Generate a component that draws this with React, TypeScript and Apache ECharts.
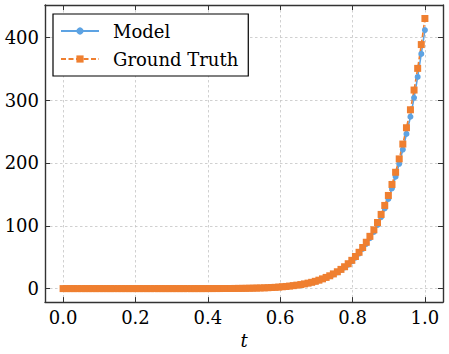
import React, { useEffect, useRef } from "react";
import * as echarts from "echarts";

const t = [
  0.0, 0.01, 0.02, 0.03, 0.04, 0.051, 0.061, 0.071, 0.081, 0.091,
  0.101, 0.111, 0.121, 0.131, 0.141, 0.152, 0.162, 0.172, 0.182, 0.192,
  0.202, 0.212, 0.222, 0.232, 0.242, 0.253, 0.263, 0.273, 0.283, 0.293,
  0.303, 0.313, 0.323, 0.333, 0.343, 0.354, 0.364, 0.374, 0.384, 0.394,
  0.404, 0.414, 0.424, 0.434, 0.444, 0.455, 0.465, 0.475, 0.485, 0.495,
  0.505, 0.515, 0.525, 0.535, 0.545, 0.556, 0.566, 0.576, 0.586, 0.596,
  0.606, 0.616, 0.626, 0.636, 0.646, 0.657, 0.667, 0.677, 0.687, 0.697,
  0.707, 0.717, 0.727, 0.737, 0.747, 0.758, 0.768, 0.778, 0.788, 0.798,
  0.808, 0.818, 0.828, 0.838, 0.848, 0.859, 0.869, 0.879, 0.889, 0.899,
  0.909, 0.919, 0.929, 0.939, 0.949, 0.96, 0.97, 0.98, 0.99, 1.0,
];

const groundTruth = [
  0, 0, 0, 0, 0, 0, 0, 0, 0, 0,
  0, 0, 0, 0, 0, 0, 0, 0, 0, 0,
  0, 0, 0, 0, 0, 0, 0, 0, 0, 0,
  0, 0, 0, 0, 0, 0, 0, 0, 0, 0,
  0.05, 0.06, 0.08, 0.1, 0.13, 0.16, 0.2, 0.25, 0.31, 0.38,
  0.46, 0.57, 0.69, 0.83, 1.0, 1.2, 1.4, 1.7, 2.0, 2.4,
  2.9, 3.4, 4.0, 4.7, 5.5, 6.4, 7.5, 8.7, 10.0, 11.6,
  13.4, 15.5, 17.8, 20.4, 23.4, 26.8, 30.6, 34.8, 39.6, 45.0,
  51.1, 57.8, 65.4, 73.8, 83.2, 93.6, 105.2, 118.1, 132.4, 148.3,
  165.8, 185.2, 206.5, 230.1, 256.1, 284.7, 316.1, 350.6, 388.5, 430.0,
];

const model = [
  0, 0, 0, 0, 0, 0, 0, 0, 0, 0,
  0, 0, 0, 0, 0, 0, 0, 0, 0, 0,
  0, 0, 0, 0, 0, 0, 0, 0, 0, 0,
  0, 0, 0, 0, 0, 0, 0, 0, 0, 0,
  0.05, 0.06, 0.08, 0.1, 0.12, 0.15, 0.19, 0.24, 0.3, 0.37,
  0.45, 0.55, 0.67, 0.8, 0.97, 1.2, 1.4, 1.6, 1.9, 2.3,
  2.8, 3.3, 3.9, 4.6, 5.3, 6.2, 7.3, 8.4, 9.7, 11.2,
  13.0, 15.0, 17.2, 19.7, 22.6, 25.9, 29.6, 33.6, 38.2, 43.4,
  49.3, 55.8, 63.1, 71.2, 80.2, 90.2, 101.4, 113.8, 127.5, 142.8,
  159.6, 178.2, 198.7, 221.3, 246.2, 273.6, 303.7, 337.0, 373.6, 411.5,
];

const xTicks = [0, 0.2, 0.4, 0.6, 0.8, 1.0];
const yTicks = [0, 100, 200, 300, 400];

const FONT = "DejaVu Serif";
const FRAME = "#333333";
const BLUE = "#5da3e3";
const ORANGE = "#ef7f30";

export default function App() {
  const ref = useRef<HTMLDivElement>(null);
  useEffect(() => {
    if (!ref.current) return;
    const chart = echarts.init(ref.current, undefined, { renderer: "svg" });
    const axisLine = { show: true, onZero: false, lineStyle: { color: FRAME, width: 1.4 } };
    const split = {
      show: true,
      lineStyle: { color: "#c4c4c4", width: 0.8, type: [2.5, 2.5] as any },
    };
    const xRange = { min: -0.05, max: 1.05 };
    const yRange = { min: -21.5, max: 451.5 };
    const tick = (vals: number[]) => ({
      show: true,
      inside: true,
      length: 5,
      customValues: vals,
      lineStyle: { color: FRAME, width: 1 },
    });
    const labelFont = { fontFamily: FONT, fontSize: 18, color: "#000" };
    chart.setOption({
      animation: false,
      backgroundColor: "#ffffff",
      textStyle: { fontFamily: FONT, fontSize: 18, color: "#000" },
      grid: { left: 45, right: 6, top: 5, bottom: 51, containLabel: false },
      legend: {
        orient: "vertical",
        left: 53,
        top: 14,
        padding: [8, 10, 8, 7],
        itemWidth: 38,
        itemHeight: 9,
        itemGap: 10,
        borderColor: "#000",
        borderWidth: 1.2,
        borderRadius: 0,
        backgroundColor: "#ffffff",
        textStyle: { ...labelFont, padding: [0, 0, 0, 9] },
        data: ["Model", "Ground Truth"],
      },
      xAxis: [
        {
          type: "value",
          ...xRange,
          position: "bottom",
          name: "t",
          nameLocation: "middle",
          nameGap: 26,
          nameTextStyle: { ...labelFont, fontStyle: "italic" },
          axisLine,
          axisTick: tick(xTicks),
          axisLabel: {
            show: true,
            customValues: xTicks,
            margin: 6,
            ...labelFont,
            formatter: (v: number) => v.toFixed(1),
          },
          splitLine: split,
        },
        {
          type: "value",
          ...xRange,
          position: "top",
          axisLine,
          axisTick: tick(xTicks),
          axisLabel: { show: false },
          splitLine: { show: false },
        },
      ],
      yAxis: [
        {
          type: "value",
          ...yRange,
          position: "left",
          axisLine,
          axisTick: tick(yTicks),
          axisLabel: {
            show: true,
            customValues: yTicks,
            margin: 6,
            ...labelFont,
            formatter: (v: number) => String(Math.round(v)),
          },
          splitLine: split,
        },
        {
          type: "value",
          ...yRange,
          position: "right",
          axisLine,
          axisTick: tick(yTicks),
          axisLabel: { show: false },
          splitLine: { show: false },
        },
      ],
      series: [
        {
          name: "Model",
          type: "line",
          xAxisIndex: 0,
          yAxisIndex: 0,
          data: t.map((x, i) => [x, model[i]]),
          symbol: "circle",
          symbolSize: 6,
          showAllSymbol: true,
          lineStyle: { color: BLUE, width: 1.6 },
          itemStyle: { color: BLUE },
        },
        {
          name: "Ground Truth",
          type: "line",
          xAxisIndex: 0,
          yAxisIndex: 0,
          data: t.map((x, i) => [x, groundTruth[i]]),
          symbol: "rect",
          symbolSize: 7,
          showAllSymbol: true,
          lineStyle: { color: ORANGE, width: 1.6, type: [5, 2.5] as any },
          itemStyle: { color: ORANGE },
        },
      ],
    });
    return () => chart.dispose();
  }, []);
  return (
    <div
      ref={ref}
      style={{ position: "fixed", left: 0, top: 0, width: 449, height: 354, background: "#fff" }}
    />
  );
}
